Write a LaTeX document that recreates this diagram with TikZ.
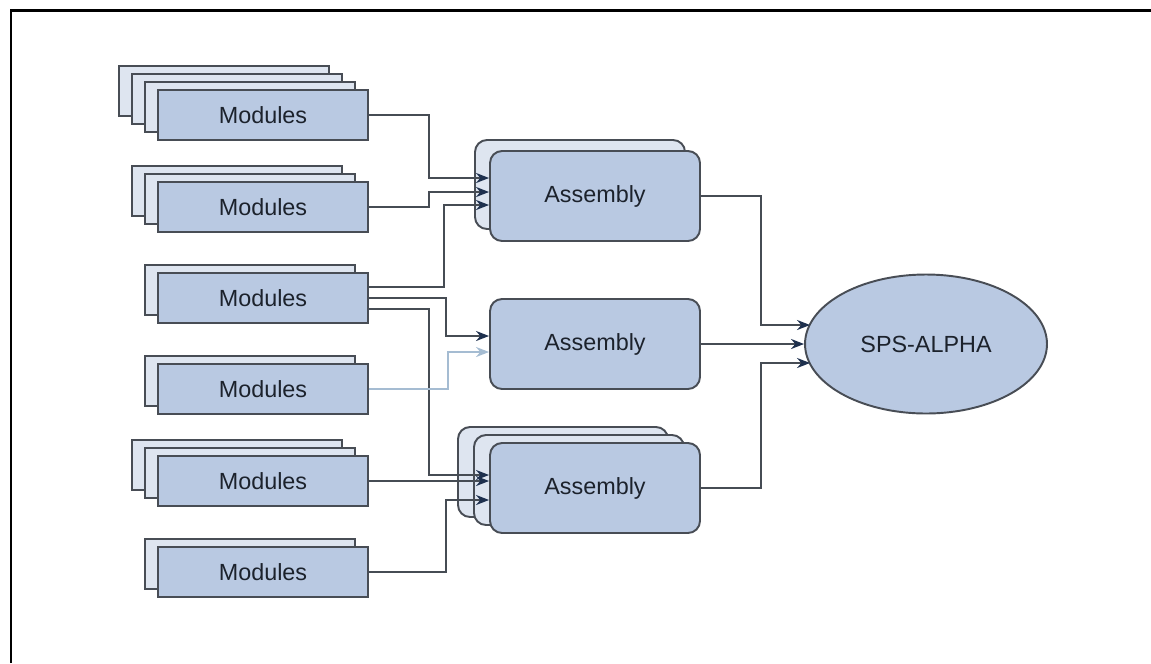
\documentclass[tikz,border=0pt]{standalone}
\usepackage{fontspec}
\setmainfont{Liberation Sans}
\usetikzlibrary{arrows.meta,calc,shapes.geometric}

\definecolor{boxblue}{RGB}{185,201,226}
\definecolor{backblue}{RGB}{222,229,240}
\definecolor{edgegray}{RGB}{72,77,85}
\definecolor{linkgray}{RGB}{70,76,84}
\definecolor{fadeblue}{RGB}{165,188,210}
\definecolor{tipnavy}{RGB}{30,48,78}
\definecolor{inkdark}{RGB}{28,34,44}

\tikzset{
    modbox/.style={draw=edgegray,fill=boxblue,line width=1.1pt,text=inkdark,
        minimum width=4.2cm,minimum height=1cm,inner sep=0pt,
        font=\fontsize{13.3}{16}\selectfont},
    modback/.style={draw=edgegray,fill=backblue,line width=1.1pt},
    asmbox/.style={modbox,rounded corners=0.24cm,minimum height=1.8cm},
    asmback/.style={modback,rounded corners=0.24cm},
    goal/.style={ellipse,draw=edgegray,fill=boxblue,line width=1.1pt,text=inkdark,
        minimum width=4.84cm,minimum height=2.78cm,inner sep=0pt,
        font=\fontsize{13.3}{16}\selectfont},
    link/.style={draw=linkgray,line width=1.2pt,
        -{Stealth[length=2.6mm,width=2mm,color=tipnavy]}},
    fadelink/.style={draw=fadeblue,line width=1.2pt,
        -{Stealth[length=2.6mm,width=2mm,color=fadeblue]}}
}

\begin{document}
\begin{tikzpicture}[x=0.02cm,y=-0.02cm]
    \useasboundingbox (0,0) rectangle (1151,663);
    \draw[line width=0.06cm] (11,663) -- (11,10) -- (1151,10);

    % module stacks: copies behind, then the front box
    \foreach \k in {3,2,1}
        \draw[modback,shift={(-13*\k,-8*\k)}] (158,90) rectangle (368,140);
    \node[modbox] (mod1) at (263,115) {Modules};

    \foreach \k in {2,1}
        \draw[modback,shift={(-13*\k,-8*\k)}] (158,182) rectangle (368,232);
    \node[modbox] (mod2) at (263,207) {Modules};

    \draw[modback,shift={(-13,-8)}] (158,273) rectangle (368,323);
    \node[modbox] (mod3) at (263,298) {Modules};

    \draw[modback,shift={(-13,-8)}] (158,364) rectangle (368,414);
    \node[modbox] (mod4) at (263,389) {Modules};

    \foreach \k in {2,1}
        \draw[modback,shift={(-13*\k,-8*\k)}] (158,456) rectangle (368,506);
    \node[modbox] (mod5) at (263,481) {Modules};

    \draw[modback,shift={(-13,-8)}] (158,547) rectangle (368,597);
    \node[modbox] (mod6) at (263,572) {Modules};

    % assemblies
    \draw[asmback,shift={(-15,-12)}] (490,152) rectangle (700,241);
    \node[asmbox] (asm1) at (595,196) {Assembly};

    \node[asmbox] (asm2) at (595,344) {Assembly};

    \draw[asmback,shift={(-32,-16)}] (490,443) rectangle (700,533);
    \draw[asmback,shift={(-16,-8)}] (490,443) rectangle (700,533);
    \node[asmbox] (asm3) at (595,488) {Assembly};

    \node[goal] (sps) at (926,344) {SPS-ALPHA};

    % modules to assemblies
    \draw[link] (mod1.east) -- ++(60,0) |- ($(asm1.west)+(0,-18)$);
    \draw[link] (mod2.east) -- ++(60,0) |- ($(asm1.west)+(0,-4)$);
    \draw[link] ($(mod3.east)+(0,-11)$) -- ++(75,0) |- ($(asm1.west)+(0,9)$);
    \draw[link] (mod3.east) -- ++(77,0) |- ($(asm2.west)+(0,-8)$);
    \draw[link] ($(mod3.east)+(0,11)$) -- ++(60,0) |- ($(asm3.west)+(0,-13)$);
    \draw[fadelink] (mod4.east) -- ++(79,0) |- ($(asm2.west)+(0,8)$);
    \draw[link] (mod5.east) -- (mod5.east -| asm3.west);
    \draw[link] (mod6.east) -- ++(77,0) |- ($(asm3.west)+(0,12)$);

    % assemblies to SPS-ALPHA
    \draw[link] (asm1.east) -- ++(60,0) |- ($(sps.west)+(6,-19)$);
    \draw[link] (asm2.east) -- (asm2.east -| sps.west);
    \draw[link] (asm3.east) -- ++(60,0) |- ($(sps.west)+(6,19)$);
\end{tikzpicture}
\end{document}
